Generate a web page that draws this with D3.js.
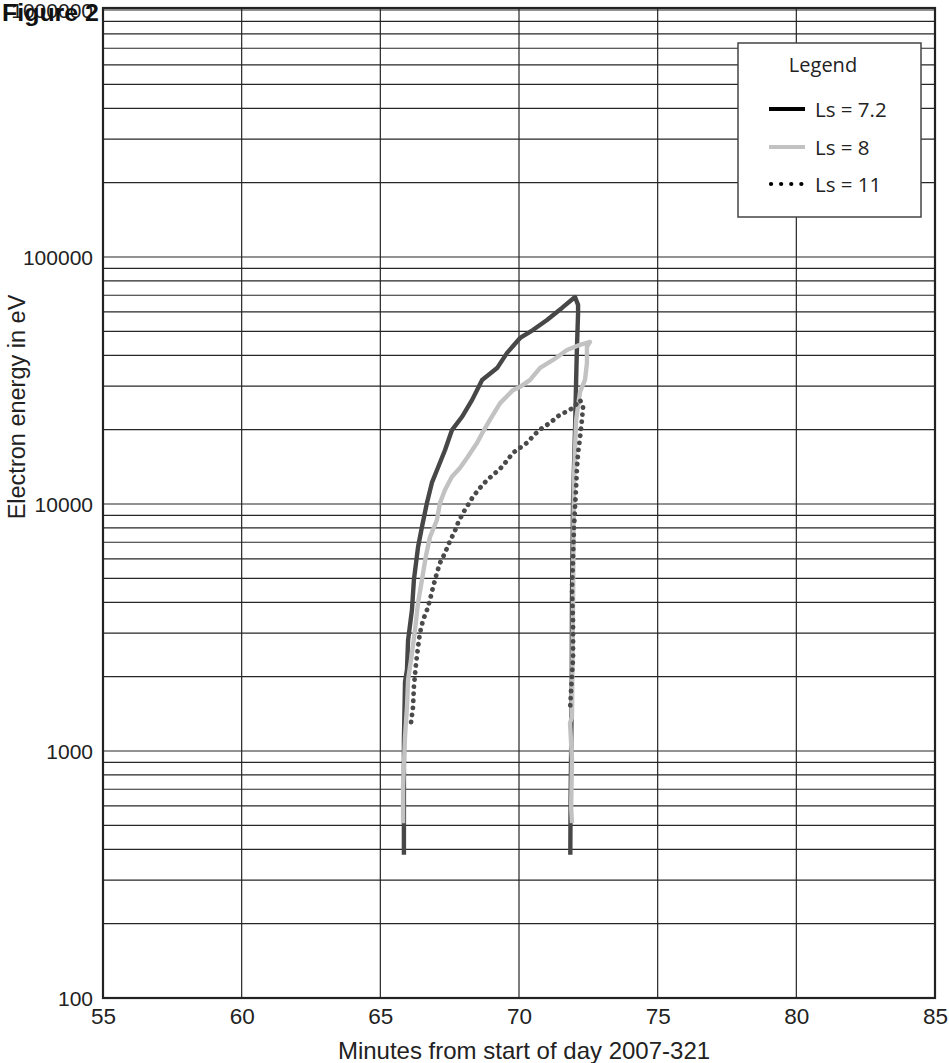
<!DOCTYPE html>
<html>
<head>
<meta charset="utf-8">
<script src="https://cdn.jsdelivr.net/npm/d3@7"></script>
<style>
  html, body { margin: 0; padding: 0; background: #fff; }
  svg { display: block; }
</style>
</head>
<body>
<svg id="chart" width="949" height="1063"></svg>
<script>
// Axis ticks
const xTicks = [55, 60, 65, 70, 75, 80, 85];
const yTicks = [100, 1000, 10000, 100000, 1000000];

// Ls = 7.2 trace (minutes, electron energy in eV)
const ls72Minutes = [65.85, 65.85, 65.89, 65.96, 66.0, 66.14, 66.21, 66.36, 66.5, 66.68, 66.86, 67.04, 67.33, 67.58, 67.94, 68.31, 68.67, 69.21, 69.57, 70.04, 70.5, 71.01, 71.55, 72.02, 72.13, 72.13, 72.09, 72.06, 72.02, 71.95, 71.91, 71.9, 71.88, 71.86, 71.85];
const ls72Energy = [380, 1100, 1900, 2130, 2810, 3720, 4920, 6700, 8070, 10100, 12200, 13700, 16500, 19900, 22500, 26400, 31800, 35500, 40900, 47000, 50600, 55600, 62200, 68900, 64000, 59300, 43200, 31800, 19900, 10400, 4100, 1600, 1000, 630, 380];

// Ls = 8 trace
const ls8Minutes = [65.82, 65.82, 65.89, 65.96, 66.0, 66.14, 66.25, 66.36, 66.5, 66.65, 66.79, 67.04, 67.15, 67.33, 67.58, 67.87, 68.13, 68.49, 68.7, 68.95, 69.32, 69.78, 70.04, 70.4, 70.76, 71.23, 71.73, 72.2, 72.56, 72.45, 72.45, 72.38, 72.2, 72.06, 71.98, 71.95, 71.91, 71.84, 71.91, 71.88, 71.91];
const ls8Energy = [510, 715, 1140, 1510, 1940, 2490, 3090, 3980, 4930, 6220, 7350, 8610, 10100, 11400, 12900, 14000, 15400, 17700, 19600, 21900, 25600, 28900, 29800, 31800, 35600, 38300, 42000, 44100, 45300, 43300, 37200, 31800, 28400, 21900, 12500, 4100, 1370, 1300, 920, 590, 510];

// Ls = 11 trace
const ls11Minutes = [66.11, 66.18, 66.21, 66.29, 66.36, 66.43, 66.54, 66.68, 66.79, 66.9, 67.04, 67.15, 67.33, 67.51, 67.69, 67.8, 67.98, 68.16, 68.34, 68.59, 68.85, 69.06, 69.32, 69.53, 69.78, 70.04, 70.29, 70.58, 70.83, 71.12, 71.41, 71.69, 71.95, 72.2, 72.31, 72.27, 72.2, 72.13, 72.09, 72.06, 72.02, 71.98, 71.95, 71.91, 71.95, 71.95, 71.88, 71.84];
const ls11Energy = [1310, 1510, 1820, 2270, 2640, 3010, 3390, 3720, 4090, 4610, 5260, 5770, 6330, 7080, 7780, 8380, 9200, 9910, 10700, 11600, 12500, 13100, 13900, 14800, 16100, 16900, 17700, 19200, 20300, 21300, 22700, 23600, 24500, 26400, 24700, 21900, 18500, 16100, 14000, 11700, 9730, 7850, 6100, 4490, 3300, 2400, 1770, 1470];

const seriesNames = ["Ls = 7.2", "Ls = 8", "Ls = 11"];

const svg = d3.select("#chart");
const plotLeft = 103, plotRight = 935, plotTop = 8, plotBottom = 998;

const x = d3.scaleLinear().domain([55, 85]).range([plotLeft, plotRight]);
const y = d3.scaleLog().domain([100, 1000000]).range([plotBottom, 10]);

const font = "'Liberation Sans', Arial, Helvetica, sans-serif";
const legendFont = "'Open Sans', 'Noto Sans', sans-serif";

// Horizontal grid: every 1..9 multiple of each decade
const minorValues = [];
for (let e = 2; e <= 5; e++) {
  for (let m = 1; m <= 9; m++) minorValues.push(m * Math.pow(10, e));
}
minorValues.push(1000000);

const grid = svg.append("g").attr("stroke", "#262626").attr("stroke-width", 1.2);
grid.selectAll("line.h").data(minorValues.filter(v => v > 100)).join("line")
  .attr("class", "h")
  .attr("x1", plotLeft).attr("x2", plotRight)
  .attr("y1", d => y(d)).attr("y2", d => y(d));
grid.selectAll("line.v").data(xTicks.filter(v => v > 55 && v < 85)).join("line")
  .attr("class", "v")
  .attr("x1", d => x(d)).attr("x2", d => x(d))
  .attr("y1", plotTop).attr("y2", plotBottom);

// Frame
svg.append("rect")
  .attr("x", plotLeft).attr("y", plotTop)
  .attr("width", plotRight - plotLeft).attr("height", plotBottom - plotTop)
  .attr("fill", "none").attr("stroke", "#222").attr("stroke-width", 2.2);

// Axes
const xAxis = d3.axisBottom(x).tickValues(xTicks).tickSize(0).tickPadding(10).tickFormat(d3.format("d"));
const yAxis = d3.axisLeft(y).tickValues(yTicks).tickSize(0).tickPadding(10).tickFormat(d3.format("d"));

const gx = svg.append("g").attr("transform", `translate(0,${plotBottom})`).call(xAxis);
gx.select(".domain").remove();
gx.selectAll("text").attr("font-family", font).attr("font-size", 22.5).attr("fill", "#222")
  .attr("dy", "0.71em").attr("y", 10);

const gy = svg.append("g").attr("transform", `translate(${plotLeft},0)`).call(yAxis);
gy.select(".domain").remove();
gy.selectAll("text").attr("font-family", font).attr("font-size", 21).attr("fill", "#222")
  .attr("x", -10).attr("dy", "0.36em");

// Axis titles
svg.append("text")
  .attr("x", 524).attr("y", 1059)
  .attr("text-anchor", "middle")
  .attr("font-family", font).attr("font-size", 24).attr("fill", "#222")
  .text("Minutes from start of day 2007-321");

svg.append("text")
  .attr("transform", "translate(25,407) rotate(-90)")
  .attr("text-anchor", "middle")
  .attr("font-family", font).attr("font-size", 23.5).attr("fill", "#222")
  .text("Electron energy in eV");

// Traces
const line = d3.line().x(d => x(d[0])).y(d => y(d[1]));
const zip = (a, b) => a.map((v, i) => [v, b[i]]);

svg.append("path")
  .attr("d", line(zip(ls72Minutes, ls72Energy)))
  .attr("fill", "none").attr("stroke", "#474747").attr("stroke-width", 4.4)
  .attr("stroke-linejoin", "round").attr("stroke-linecap", "butt");

svg.append("path")
  .attr("d", line(zip(ls8Minutes, ls8Energy)))
  .attr("fill", "none").attr("stroke", "#c2c2c2").attr("stroke-width", 4.4)
  .attr("stroke-linejoin", "round").attr("stroke-linecap", "butt");

svg.append("path")
  .attr("d", line(zip(ls11Minutes, ls11Energy)))
  .attr("fill", "none").attr("stroke", "#4a4a4a").attr("stroke-width", 4.8)
  .attr("stroke-dasharray", "0.1 7").attr("stroke-linecap", "round");

// Legend
const lg = svg.append("g");
lg.append("rect")
  .attr("x", 738).attr("y", 43).attr("width", 183).attr("height", 174)
  .attr("fill", "#fff").attr("stroke", "#444").attr("stroke-width", 1.5);
lg.append("text")
  .attr("x", 823).attr("y", 72).attr("text-anchor", "middle")
  .attr("font-family", legendFont).attr("font-size", 20).attr("fill", "#222")
  .text("Legend");

const legendRows = [
  { name: seriesNames[0], y: 109, stroke: "#000", width: 4.2, dash: null },
  { name: seriesNames[1], y: 147, stroke: "#c2c2c2", width: 4.2, dash: null },
  { name: seriesNames[2], y: 184, stroke: "#000", width: 4.2, dash: "0.1 10" }
];
legendRows.forEach(r => {
  const l = lg.append("line")
    .attr("x1", r.dash ? 771 : 769).attr("x2", r.dash ? 803 : 805)
    .attr("y1", r.y).attr("y2", r.y)
    .attr("stroke", r.stroke).attr("stroke-width", r.width);
  if (r.dash) l.attr("stroke-dasharray", r.dash).attr("stroke-linecap", "round");
  lg.append("text")
    .attr("x", 815).attr("y", r.y + 8)
    .attr("font-family", legendFont).attr("font-size", 20.5).attr("fill", "#222")
    .text(r.name);
});

// Top-left caption
svg.append("text")
  .attr("x", 2).attr("y", 20.5)
  .attr("font-family", font).attr("font-size", 23).attr("font-weight", "bold").attr("fill", "#111")
  .attr("textLength", 97).attr("lengthAdjust", "spacingAndGlyphs")
  .text("Figure 2");
</script>
</body>
</html>
